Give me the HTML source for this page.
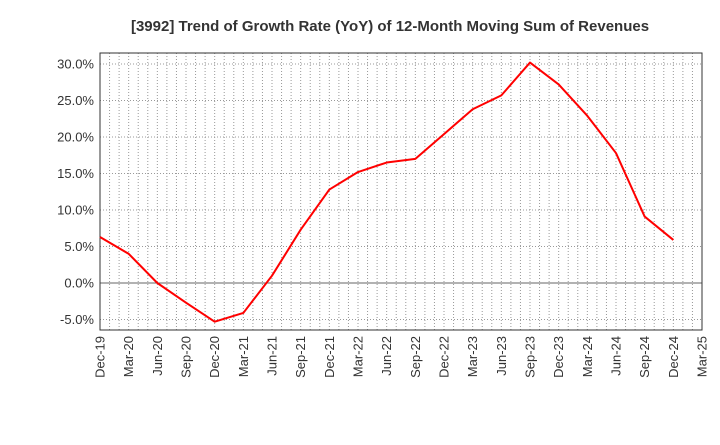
<!DOCTYPE html>
<html><head><meta charset="utf-8"><style>
body{margin:0;background:#fff;font-family:"Liberation Sans",sans-serif}
</style></head><body>
<svg id="chart" width="720" height="440" xmlns="http://www.w3.org/2000/svg" font-family="Liberation Sans, sans-serif">
<text x="390" y="31" text-anchor="middle" font-size="15" font-weight="bold" fill="#333">[3992]  Trend of Growth Rate (YoY) of 12-Month Moving Sum of Revenues</text>
<g id="grid"></g><g id="axes"></g><g id="series"></g>
</svg>
<script>
const categories=["Dec-19","Mar-20","Jun-20","Sep-20","Dec-20","Mar-21","Jun-21","Sep-21","Dec-21","Mar-22","Jun-22","Sep-22","Dec-22","Mar-23","Jun-23","Sep-23","Dec-23","Mar-24","Jun-24","Sep-24","Dec-24","Mar-25"];
const values=[6.3,4.0,0.0,-2.7,-5.3,-4.1,1.0,7.3,12.8,15.2,16.5,17.0,20.4,23.8,25.7,30.2,27.2,22.9,17.8,9.1,5.9];
const yTicks=[-5,0,5,10,15,20,25,30];
const L=100,R=702,T=53,B=330;
const x=i=>L+(R-L)*i/(categories.length-1);
const y=v=>283-v*36.5/5;
const NS="http://www.w3.org/2000/svg";
function mk(tag,attrs,parent){const e=document.createElementNS(NS,tag);for(const k in attrs)e.setAttribute(k,attrs[k]);parent.appendChild(e);return e;}
const grid=document.getElementById('grid'),axes=document.getElementById('axes'),series=document.getElementById('series');
const months=(categories.length-1)*3;
for(let m=1;m<months;m++){const xx=L+(R-L)*m/months;
 const g=mk('line',{x1:xx,x2:xx,y1:T,y2:B,stroke:'#999','stroke-width':1,'stroke-dasharray':'1,2'},grid);
 
 }
yTicks.forEach(t=>{const yy=y(t);
 const g=mk('line',{x1:L,x2:R,y1:yy,y2:yy,stroke:t===0?'#666':'#999','stroke-width':1,'stroke-dasharray':t===0?'':'1,2'},grid);
 
 
 const lb=mk('text',{x:L-6,y:yy+4.5,'text-anchor':'end','font-size':13,fill:'#333'},axes);
 lb.textContent=t.toFixed(1)+'%';
 
 });
const fr=mk('rect',{x:L,y:T,width:R-L,height:B-T,fill:'none',stroke:'#333','stroke-width':1},axes);


categories.forEach((c,i)=>{const xx=x(i);
 const lb=mk('text',{x:xx+4.5,y:B+6,'text-anchor':'end','font-size':13,fill:'#333',transform:`rotate(-90 ${xx+4.5} ${B+6})`},axes);
 lb.textContent=c;
 
 });
const pts=values.map((v,i)=>x(i)+','+y(v)).join(' ');
const pl=mk('polyline',{points:pts,fill:'none',stroke:'#f00','stroke-width':2,'stroke-linejoin':'round'},series);


</script>
</body></html>
